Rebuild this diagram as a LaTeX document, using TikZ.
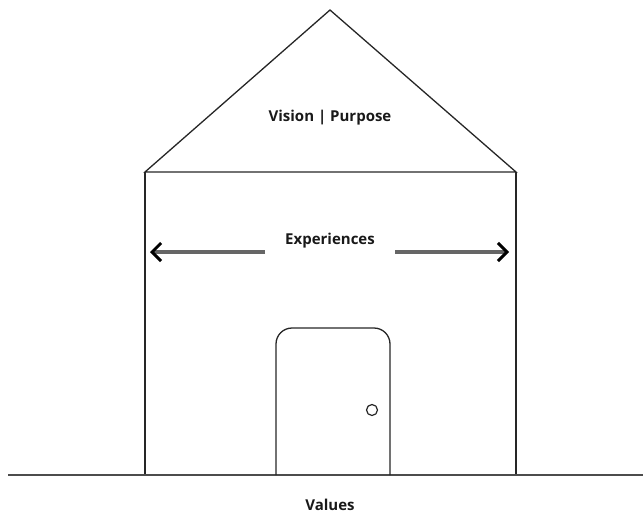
\documentclass[tikz,border=0pt]{standalone}
\usepackage{fontspec}
\setmainfont{Open Sans}
\usetikzlibrary{arrows.meta}
\begin{document}
\begin{tikzpicture}[x=1pt,y=-1pt,
  edge/.style={draw=black!85,line width=1.3pt},
  lbl/.style={font=\bfseries\fontsize{15}{18}\selectfont,text=black!90,inner sep=1pt},
  arr/.style={draw=black!60,line width=3.6pt,-{Straight Barb[length=9pt,width=18pt,line width=3pt,color=black]}}]
\useasboundingbox (0,0) rectangle (643,517);
% roof
\coordinate (apex) at (330,10);
\coordinate (rl) at (145,172);
\coordinate (rr) at (516,172);
\draw[edge] (rl) -- (apex) -- (rr) -- cycle;
% walls
\coordinate (gl) at (145,475);
\coordinate (gr) at (516,475);
\draw[edge] (rl) -- (gl);
\draw[edge] (rr) -- (gr);
% ground
\coordinate (g0) at (8,475);
\coordinate (g1) at (643,475);
\draw[draw=black!70,line width=1.6pt] (g0) -- (g1);
% door
\coordinate (dl) at (276,475);
\coordinate (dr) at (390,475);
\draw[edge,rounded corners=16pt] (dl) -- (276,328) -- (390,328) -- (dr);
\node[draw=black!85,line width=1.2pt,circle,minimum size=11pt,inner sep=0pt] (knob) at (372,410) {};
% labels
\node[lbl] (vision) at (330,118) {Vision | Purpose};
\node[lbl] (exp) at (330,241) {Experiences};
\node[lbl] (values) at (330,505) {Values};
% arrows
\coordinate (a1s) at (265,252);
\coordinate (a1e) at (150,252);
\coordinate (a2s) at (395,252);
\coordinate (a2e) at (509,252);
\draw[arr] (a1s) -- (a1e);
\draw[arr] (a2s) -- (a2e);
\end{tikzpicture}
\end{document}
